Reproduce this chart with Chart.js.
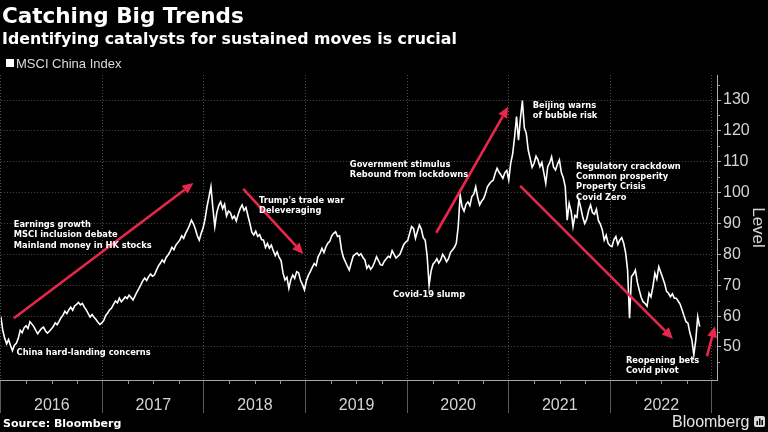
<!DOCTYPE html>
<html lang="en">
<head>
    <meta charset="UTF-8">
    <title>Catching Big Trends</title>
    <style>
        html, body { margin: 0; padding: 0; background: #000; }
        #chart-container { width: 768px; height: 432px; }
    </style>
</head>
<body>
    <div id="chart-container">
        <canvas id="msci-chart" width="768" height="432"></canvas>
    </div>

    <script src="https://cdn.jsdelivr.net/npm/chart.js"></script>

    <script>
        // MSCI China Index, weekly closes (Fridays)
        const firstWeek = '2016-01-01';
        const level2016 = [
            59.8, 55.5, 52.8, 51.0, 52.4,   50.5, 48.8, 50.6, 51.2,   52.8, 55.4, 54.6, 56.2,
            56.9, 56.0, 58.2, 57.4, 56.6,   55.4, 54.3, 55.2, 56.0,   56.4, 55.2, 54.5, 55.1,
            55.8, 56.6, 57.8, 57.2, 58.3,   59.5, 60.3, 61.6, 60.8,   62.0, 62.9, 61.9, 63.3, 63.8,
            64.4, 63.6, 64.1, 62.9,         62.0, 60.8, 59.7, 60.5,   59.6, 58.9, 58.0, 57.3, 57.8
        ];
        const level2017 = [
            58.6, 60.2, 61.0, 62.0,         62.6, 63.8, 64.9, 64.3,   65.8, 64.6, 65.4, 66.2, 65.7,
            66.8, 66.0, 65.2, 66.5,         67.8, 68.9, 70.1, 71.4,   72.3, 71.5, 72.8, 73.6, 72.9,
            73.3, 74.8, 76.2, 77.1,         78.2, 77.4, 79.0, 79.8,   80.9, 82.3, 81.5, 83.0, 83.8,
            84.6, 86.0, 85.2, 86.8,         88.0, 89.4, 91.1, 89.9,   88.2, 86.0, 84.6, 86.8, 88.6
        ];
        const level2018 = [
            91.5, 95.5, 98.6, 101.9,        95.0, 89.0, 93.5, 95.8,   97.0, 94.8, 96.2, 92.4, 94.0,
            93.5, 91.6, 92.4, 90.8,         93.0, 94.8, 96.0, 94.2,   95.2, 92.5, 90.0, 87.2, 86.3,
            87.5, 85.8, 86.4, 84.8,         84.6, 82.2, 83.5, 82.0, 83.0,   81.2, 79.6, 80.8, 79.0,
            78.0, 74.0, 71.7, 72.6,         69.0, 71.8, 73.3, 72.2, 74.4,   74.0, 71.5, 70.2, 68.5
        ];
        const level2019 = [
            71.5, 73.2, 74.4, 75.8,         77.0, 76.4, 79.2, 80.4,   82.0, 80.6, 82.4, 83.6, 84.2,
            86.0, 86.8, 87.3, 85.8,         86.0, 81.5, 79.0, 77.6, 76.2,   74.9, 77.2, 79.4, 80.0,
            80.4, 79.6, 80.2, 79.0,         78.2, 75.5, 76.4, 75.2, 76.0,   77.5, 79.2, 78.0, 76.6,
            76.5, 77.8, 78.6, 79.4,         79.0, 81.2, 80.0, 78.8, 79.4,   80.0, 81.6, 83.2, 84.0
        ];
        const level2020 = [
            84.5, 86.8, 89.0, 88.4, 85.2,   87.4, 89.5, 88.2, 85.4,   84.6, 79.5, 70.0, 74.5,
            76.8, 77.5, 78.6, 77.2,         78.2, 80.0, 79.0, 77.6, 78.6,   80.6, 81.4, 82.2, 83.6,
            89.0, 99.2, 95.4, 94.0, 96.2,   97.0, 95.8, 98.7, 99.5,   101.9, 98.5, 96.0, 97.2,
            98.0, 99.6, 101.9, 102.8, 103.6,   104.0, 106.2, 107.9, 106.6,   105.7, 104.6, 106.5, 107.2
        ];
        const level2021 = [
            104.1, 109.5, 112.5, 118.0, 124.6,   117.0, 124.0, 129.8, 121.0,   119.2, 113.8, 111.0, 108.2,
            109.5, 111.8, 110.6, 108.4, 109.8,   106.5, 103.0, 108.4, 109.6,   111.6, 108.2, 107.3, 109.2,
            110.6, 106.5, 104.8, 101.9, 91.1,    96.5, 94.0, 89.0, 92.6,       92.0, 97.6, 95.0, 92.0,
            90.0, 91.4, 94.2, 96.0, 93.5,        93.0, 94.6, 91.0, 89.8,       88.0, 84.6, 86.2, 83.6, 82.8
        ];
        const level2022 = [
            82.5, 84.8, 85.8, 83.2,         84.6, 85.4, 83.6, 80.5,   74.9, 59.3, 72.8, 73.6,
            74.9, 71.0, 68.4, 66.0, 64.6,   64.1, 63.2, 67.4, 66.2,   69.5, 73.9, 72.0, 76.0,
            74.2, 72.4, 70.6, 68.0, 67.4,   66.3, 67.2, 65.8, 65.8,   64.8, 63.8, 62.0, 60.0, 58.2,
            57.7, 54.5, 52.3, 47.4,         52.3, 59.8, 56.6
        ];
        const values = [].concat(level2016, level2017, level2018, level2019, level2020, level2021, level2022);

        const years = [2016, 2017, 2018, 2019, 2020, 2021, 2022, 2023];
        const levelTicks = [50, 60, 70, 80, 90, 100, 110, 120, 130];

        // red arrows: [from date, from level, to date, to level]
        const arrows = [
            ['2016-02-17', 59.3, '2017-11-24', 103.1],
            ['2018-05-22', 101.2, '2018-12-24', 80.1],
            ['2020-04-15', 87.0, '2020-12-30', 127.8],
            ['2021-02-11', 102.2, '2022-08-14', 52.7],
            ['2022-12-14', 47.0, '2023-01-12', 56.7]
        ];

        // text notes: anchor of the first line (date, level)
        const notes = [
            { date: '2016-02-17', level: 89.5, lines: ['Earnings growth', 'MSCI inclusion debate', 'Mainland money in HK stocks'] },
            { date: '2016-02-27', level: 48.1, lines: ['China hard-landing concerns'] },
            { date: '2018-07-18', level: 97.4, lines: ["Trump's trade war", 'Deleveraging'] },
            { date: '2019-06-09', level: 109.1, lines: ['Government stimulus', 'Rebound from lockdowns'] },
            { date: '2019-11-11', level: 66.8, lines: ['Covid-19 slump'] },
            { date: '2021-03-28', level: 128.2, lines: ['Beijing warns', 'of bubble risk'] },
            { date: '2021-08-31', level: 108.4, lines: ['Regulatory crackdown', 'Common prosperity', 'Property Crisis', 'Covid Zero'] },
            { date: '2022-02-26', level: 45.5, lines: ['Reopening bets', 'Covid pivot'] }
        ];

        function toYear(s) {
            const d = new Date(s + 'T00:00:00Z');
            const y = d.getUTCFullYear();
            const start = Date.UTC(y, 0, 1), end = Date.UTC(y + 1, 0, 1);
            return y + (d - start) / (end - start);
        }

        // one Friday per value, starting at firstWeek
        const t0 = Date.parse(firstWeek + 'T00:00:00Z');
        const dates = values.map((v, i) => new Date(t0 + i * 7 * 86400000).toISOString().slice(0, 10));

        const AXIS_TEXT = '#d4d4d4';
        const GRID = '#4d4d4d';
        const RED = '#e8274b';
        const NARROW = '"Liberation Sans Narrow", "Liberation Sans", sans-serif';

        const background = {
            id: 'background',
            beforeDraw(chart) {
                const c = chart.ctx;
                c.save();
                c.fillStyle = '#000';
                c.fillRect(0, 0, chart.width, chart.height);
                c.restore();
            }
        };

        function drawArrow(c, x1, y1, x2, y2) {
            const ang = Math.atan2(y2 - y1, x2 - x1);
            const head = 11, half = 5;
            const bx = x2 - head * Math.cos(ang), by = y2 - head * Math.sin(ang);
            c.beginPath();
            c.moveTo(x1, y1);
            c.lineTo(bx, by);
            c.stroke();
            c.beginPath();
            c.moveTo(x2, y2);
            c.lineTo(bx + half * Math.sin(ang), by - half * Math.cos(ang));
            c.lineTo(bx - half * Math.sin(ang), by + half * Math.cos(ang));
            c.closePath();
            c.fill();
        }

        const overlay = {
            id: 'overlay',
            afterDatasetsDraw(chart) {
                const c = chart.ctx;
                const xs = chart.scales.x, ys = chart.scales.y;
                const area = chart.chartArea;
                c.save();

                // minor ticks on the axes
                c.strokeStyle = '#9a9a9a';
                c.lineWidth = 1;
                c.beginPath();
                for (let y = 2016; y < 2023; y++) {
                    for (let q = 1; q < 4; q++) {
                        const px = Math.round(xs.getPixelForValue(y + q / 4)) + 0.5;
                        c.moveTo(px, area.bottom);
                        c.lineTo(px, area.bottom + 4);
                    }
                }
                for (let v = 45; v <= 135; v += 10) {
                    const py = Math.round(ys.getPixelForValue(v)) + 0.5;
                    c.moveTo(area.right, py);
                    c.lineTo(area.right + 3, py);
                }
                c.stroke();

                // arrows
                c.strokeStyle = RED;
                c.fillStyle = RED;
                c.lineWidth = 2.6;
                arrows.forEach(a => {
                    drawArrow(c,
                        xs.getPixelForValue(toYear(a[0])), ys.getPixelForValue(a[1]),
                        xs.getPixelForValue(toYear(a[2])), ys.getPixelForValue(a[3]));
                });

                // notes
                c.fillStyle = '#fff';
                c.font = 'bold 8.3px "DejaVu Sans"';
                c.textBaseline = 'middle';
                c.textAlign = 'left';
                notes.forEach(n => {
                    const x = xs.getPixelForValue(toYear(n.date));
                    const y = ys.getPixelForValue(n.level);
                    n.lines.forEach((t, i) => c.fillText(t, x, y + i * 10.3));
                });
                c.restore();
            },
            afterDraw(chart) {
                const c = chart.ctx;
                c.save();
                c.textAlign = 'left';
                c.textBaseline = 'alphabetic';
                c.fillStyle = '#fff';
                c.font = 'bold 21.5px "DejaVu Sans"';
                c.fillText('Catching Big Trends', 2, 23);
                c.font = 'bold 15.8px "DejaVu Sans"';
                c.fillText('Identifying catalysts for sustained moves is crucial', 2, 44);

                // legend
                c.fillRect(6, 59, 8, 8);
                c.fillStyle = '#dcdcdc';
                c.font = '13px ' + NARROW;
                c.fillText(chart.data.datasets[0].label, 16, 68);

                // footer
                c.fillStyle = '#fff';
                c.font = 'bold 11px "DejaVu Sans"';
                c.fillText('Source: Bloomberg', 3, 427);
                c.fillStyle = '#e6e6e6';
                c.font = '16px "Liberation Sans"';
                c.fillText('Bloomberg', 672, 427);
                c.fillStyle = '#d8d8d8';
                c.beginPath();
                c.roundRect(754, 416, 11, 11, 2);
                c.fill();
                c.fillStyle = '#000';
                c.fillRect(756.5, 421, 1.5, 4);
                c.fillRect(759, 418.5, 1.5, 6.5);
                c.fillRect(761.5, 420, 1.5, 5);
                c.restore();
            }
        };

        const ctx = document.getElementById('msci-chart').getContext('2d');
        const chart = new Chart(ctx, {
            type: 'line',
            data: {
                datasets: [{
                    label: 'MSCI China Index',
                    data: dates.map((d, i) => ({ x: toYear(d), y: values[i] })),
                    borderColor: '#ffffff',
                    borderWidth: 1.6,
                    pointRadius: 0,
                    tension: 0
                }]
            },
            options: {
                responsive: false,
                animation: false,
                devicePixelRatio: 1,
                layout: { padding: { top: 75, left: 0, right: 0, bottom: 0 } },
                plugins: {
                    legend: { display: false },
                    tooltip: { enabled: false }
                },
                scales: {
                    x: {
                        type: 'linear',
                        min: 2016,
                        max: 2023.05,
                        afterBuildTicks: s => { s.ticks = years.map(v => ({ value: v })); },
                        afterFit: s => { s.height = 52; },
                        ticks: {
                            callback: v => (v < 2023 ? String(v) : ''),
                            labelOffset: 51,
                            padding: -17,
                            autoSkip: false,
                            maxRotation: 0,
                            color: AXIS_TEXT,
                            font: { family: NARROW, size: 16 }
                        },
                        grid: { color: GRID, tickLength: 33, tickColor: '#5a5a5a' },
                        border: { color: '#a8a8a8', dash: [1, 2] }
                    },
                    y: {
                        position: 'right',
                        min: 39.3,
                        max: 138.1,
                        afterBuildTicks: s => { s.ticks = levelTicks.map(v => ({ value: v })); },
                        afterFit: s => { s.width = 51; },
                        ticks: {
                            padding: 2,
                            color: AXIS_TEXT,
                            font: { family: NARROW, size: 16 }
                        },
                        grid: { color: GRID, tickLength: 4, tickColor: '#b0b0b0' },
                        border: { color: '#b0b0b0', dash: [1, 2] },
                        title: {
                            display: true,
                            text: 'Level',
                            color: AXIS_TEXT,
                            padding: 0,
                            font: { family: '"Liberation Sans"', size: 17 }
                        }
                    }
                }
            },
            plugins: [background, overlay]
        });
    </script>
</body>
</html>
